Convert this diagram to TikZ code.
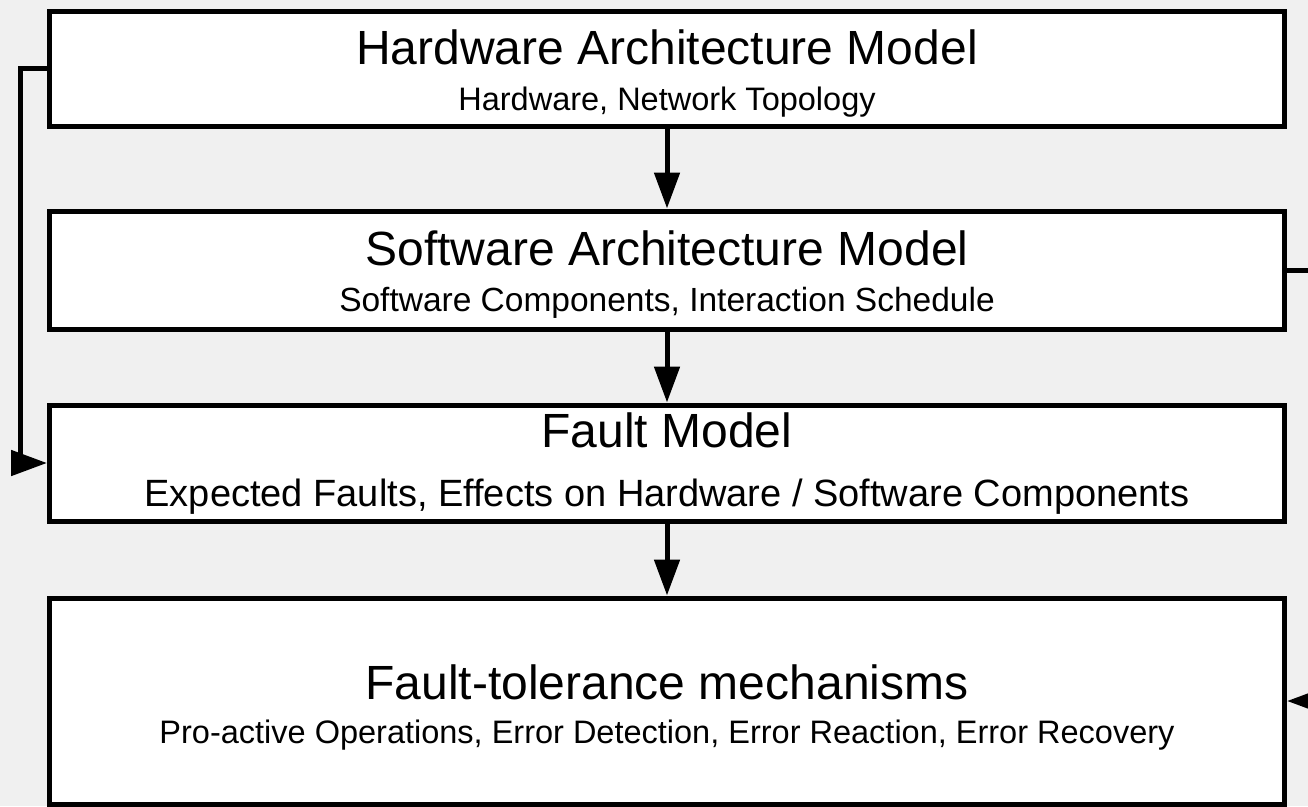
\documentclass[tikz,border=0pt]{standalone}
\usepackage{fontspec}
\setmainfont{Liberation Sans}
\usetikzlibrary{arrows.meta}

\tikzset{
  layer/.style={draw=black, fill=white, line width=5pt, inner sep=0pt},
  titletext/.style={anchor=base, inner sep=0pt, font=\fontsize{48}{58}\selectfont},
  subtext/.style={anchor=base, inner sep=0pt, font=\fontsize{32.5}{39}\selectfont},
  flow/.style={draw=black, line width=5pt,
    -{Triangle[length=36pt, width=25pt]}},
}

\begin{document}
\begin{tikzpicture}[x=1pt, y=-1pt]
  % canvas
  \useasboundingbox (0,0) rectangle (1308,806);
  \clip (0,0) rectangle (1308,806);
  \fill[black!6] (0,0) rectangle (1308,806);

  % layers of the model stack
  \node[layer, minimum width=1235pt, minimum height=115pt] (hw)  at (667,68.5) {};
  \node[layer, minimum width=1235pt, minimum height=118pt] (sw)  at (667,270)  {};
  \node[layer, minimum width=1235pt, minimum height=116pt] (fm)  at (667,463)  {};
  \node[layer, minimum width=1235pt, minimum height=206pt] (ftm) at (667,701)  {};

  % labels
  \node[titletext] (hwT) at (667,64)  {Hardware Architecture Model};
  \node[subtext]   (hwS) at (667,110) {Hardware, Network Topology};
  \node[titletext] (swT) at (667,265) {Software Architecture Model};
  \node[subtext, font=\fontsize{33.5}{40}\selectfont] (swS) at (667,311) {Software Components, Interaction Schedule};
  \node[titletext] (fmT) at (667,447) {Fault Model};
  \node[subtext, font=\fontsize{38}{45}\selectfont] (fmS) at (667,506) {Expected Faults, Effects on Hardware / Software Components};
  \node[titletext] (ftT) at (667,699) {Fault-tolerance mechanisms};
  \node[subtext]   (ftS) at (667,743) {Pro-active Operations, Error Detection, Error Reaction, Error Recovery};

  % routing columns for the side connectors
  \coordinate (lx) at (20,0);
  \coordinate (rx) at (1340,0);

  % downward flow
  \draw[flow] (hw.south) -- (sw.north);
  \draw[flow] (sw.south) -- (fm.north);
  \draw[flow] (fm.south) -- (ftm.north);

  % side feeds
  \draw[flow] (hw.west) -- (hw.west -| lx) |- (fm.west);
  \draw[flow] (sw.east) -- (sw.east -| rx) |- (ftm.east);
\end{tikzpicture}
\end{document}
